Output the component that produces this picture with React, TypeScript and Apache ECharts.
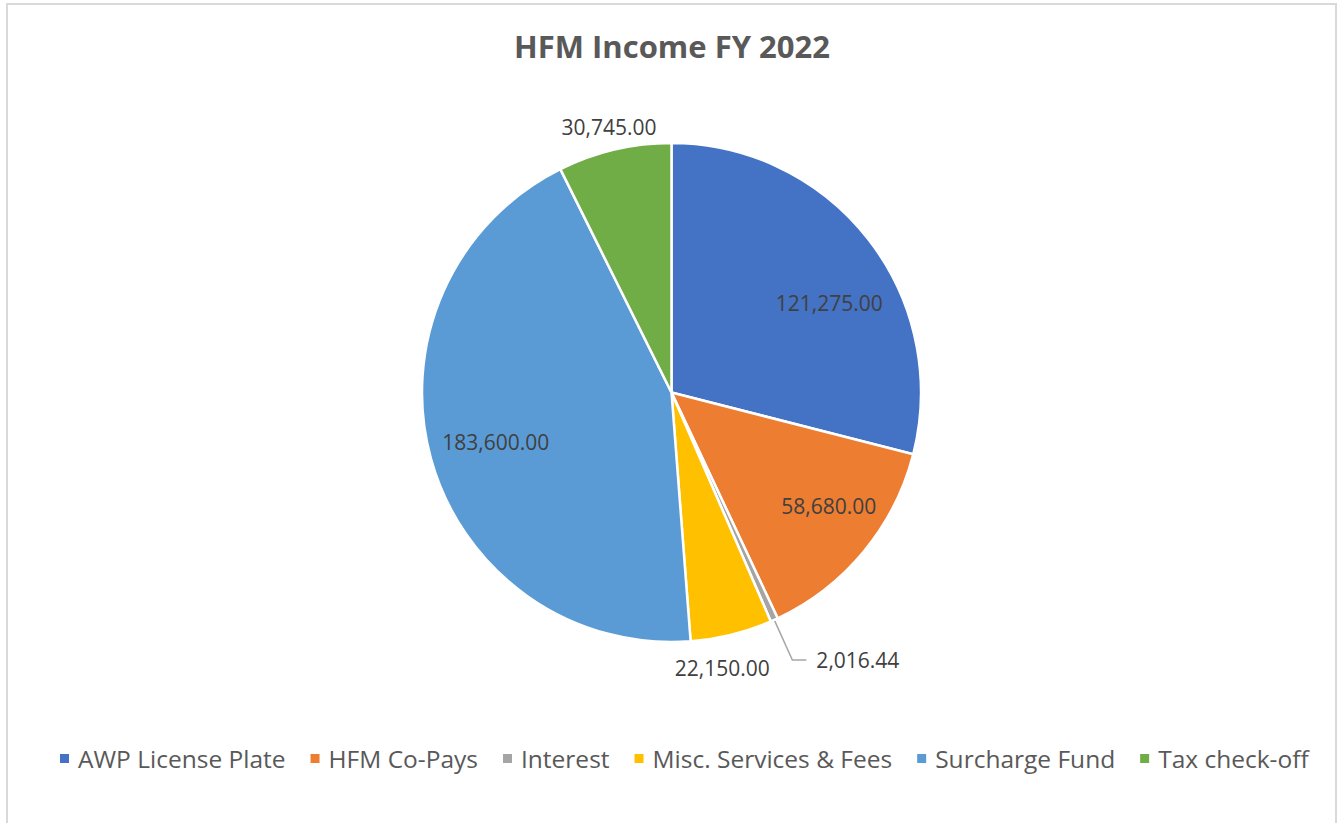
import React, { useEffect, useRef } from "react";
import * as echarts from "echarts";

const titleText = "HFM Income FY 2022";
const categories = [
  "AWP License Plate",
  "HFM Co-Pays",
  "Interest",
  "Misc. Services & Fees",
  "Surcharge Fund",
  "Tax check-off",
];
const values = [121275.0, 58680.0, 2016.44, 22150.0, 183600.0, 30745.0];
const colors = ["#4472C4", "#ED7D31", "#A5A5A5", "#FFC000", "#5B9BD5", "#70AD47"];

// where each data label is drawn (style only)
const labelPlacement: Record<string, { ring: "inner" | "outer" | "leader"; offset?: number[] }> = {
  "AWP License Plate": { ring: "inner", offset: [13, 23] },
  "HFM Co-Pays": { ring: "inner", offset: [16, -3] },
  Interest: { ring: "leader" },
  "Misc. Services & Fees": { ring: "outer", offset: [-15, 11] },
  "Surcharge Fund": { ring: "inner", offset: [1, 1] },
  "Tax check-off": { ring: "outer", offset: [0, 0] },
};

const FONT = "'Open Sans', 'Noto Sans', sans-serif";
const CENTER = [671.5, 392.5];
const R = 249.5;

const fmt = (v: number) =>
  v.toLocaleString("en-US", { minimumFractionDigits: 2, maximumFractionDigits: 2 });

export default function App() {
  const ref = useRef<HTMLDivElement>(null);
  useEffect(() => {
    if (!ref.current) return;
    const chart = echarts.init(ref.current, undefined, { renderer: "svg" });
    const labelStyle = {
      fontFamily: FONT,
      fontSize: 21,
      color: "#404040",
      formatter: (p: any) => fmt(p.value),
    };
    const mainData = categories.map((name, i) => ({
      name,
      value: values[i],
      itemStyle: { color: colors[i] },
      label: { show: labelPlacement[name].ring === "leader" },
      labelLine: { show: labelPlacement[name].ring === "leader" },
    }));
    const overlayData = (ring: string) =>
      categories.map((name, i) => ({
        name,
        value: values[i],
        label: {
          show: labelPlacement[name].ring === ring,
          offset: labelPlacement[name].offset || [0, 0],
        },
      }));
    const overlayBase = {
      type: "pie",
      center: CENTER,
      silent: true,
      avoidLabelOverlap: false,
      itemStyle: { color: "rgba(0,0,0,0)", borderWidth: 0 },
      emphasis: { disabled: true },
      labelLine: { show: false },
      tooltip: { show: false },
    };
    chart.setOption({
      animation: false,
      backgroundColor: "#ffffff",
      title: {
        text: titleText,
        left: "center",
        top: 25,
        textStyle: { fontFamily: FONT, fontSize: 31, fontWeight: "bold", color: "#595959" },
      },
      legend: {
        data: categories,
        left: 53,
        top: 741,
        icon: "rect",
        itemWidth: 11,
        itemHeight: 11,
        itemGap: 23,
        textStyle: { fontFamily: FONT, fontSize: 24.5, color: "#595959", padding: [0, 0, 0, 3] },
      },
      graphic: [
        {
          type: "rect",
          shape: { x: 7, y: 4, width: 1329, height: 840 },
          style: { fill: "none", stroke: "#d9d9d9", lineWidth: 2 },
          silent: true,
        },
      ],
      series: [
        {
          type: "pie",
          center: CENTER,
          radius: R,
          startAngle: 90,
          clockwise: true,
          avoidLabelOverlap: false,
          itemStyle: { borderColor: "#ffffff", borderWidth: 2.5 },
          emphasis: { disabled: true },
          label: {
            position: "outside",
            distanceToLabelLine: 10,
            padding: [0, 0, 12, 0],
            ...labelStyle,
          },
          labelLine: {
            length: 44,
            length2: 14,
            lineStyle: { color: "#A6A6A6", width: 1.5 },
          },
          data: mainData,
        },
        {
          ...overlayBase,
          radius: [111, R],
          label: { position: "inside", ...labelStyle },
          data: overlayData("inner"),
        },
        {
          ...overlayBase,
          radius: [255, 285],
          label: { position: "inside", ...labelStyle },
          data: overlayData("outer"),
        },
      ],
    });
    return () => chart.dispose();
  }, []);
  return (
    <div
      ref={ref}
      style={{ position: "fixed", left: 0, top: 0, width: 1344, height: 823 }}
    />
  );
}
